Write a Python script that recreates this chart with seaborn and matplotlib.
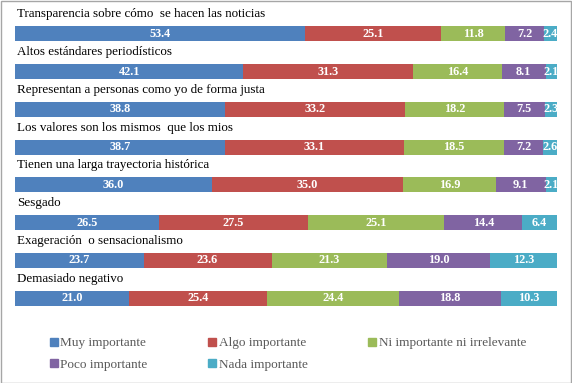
import numpy as np
import pandas as pd
import matplotlib.pyplot as plt
import seaborn as sns
from matplotlib.lines import Line2D
from matplotlib.patches import Rectangle

# Datos (porcentajes por categoria)
categorias = [
    "Transparencia sobre cómo  se hacen las noticias",
    "Altos estándares periodísticos",
    "Representan a personas como yo de forma justa",
    "Los valores son los mismos  que los mios",
    "Tienen una larga trayectoria histórica",
    "Sesgado",
    "Exageración  o sensacionalismo",
    "Demasiado negativo",
]
muy_importante = [53.4, 42.1, 38.8, 38.7, 36.0, 26.5, 23.7, 21.0]
algo_importante = [25.1, 31.3, 33.2, 33.1, 35.0, 27.5, 23.6, 25.4]
ni_importante = [11.8, 16.4, 18.2, 18.5, 16.9, 25.1, 21.3, 24.4]
poco_importante = [7.2, 8.1, 7.5, 7.2, 9.1, 14.4, 19.0, 18.8]
nada_importante = [2.4, 2.1, 2.3, 2.6, 2.1, 6.4, 12.3, 10.3]

series = ["Muy importante", "Algo importante", "Ni importante ni irrelevante",
          "Poco importante", "Nada importante"]
colores = ["#4F81BD", "#C0504D", "#9BBB59", "#8064A2", "#4BACC6"]

df = pd.DataFrame({
    "Muy importante": muy_importante,
    "Algo importante": algo_importante,
    "Ni importante ni irrelevante": ni_importante,
    "Poco importante": poco_importante,
    "Nada importante": nada_importante,
}, index=categorias)

# 100% apilado (como Excel)
pct = df.div(df.sum(axis=1), axis=0) * 100
acum = pct.cumsum(axis=1)

sns.set_style("white")
plt.rcParams["font.family"] = ["Liberation Serif", "DejaVu Serif"]

fig = plt.figure(figsize=(5.72, 3.83), dpi=100)
ax = fig.add_axes([15 / 572, 1 - 317 / 383, 542 / 572, 302 / 383])

# barras superpuestas de mayor a menor acumulado
for serie, color in reversed(list(zip(series, colores))):
    sns.barplot(x=acum[serie].values, y=categorias, color=color, orient="h",
                width=0.4, ax=ax, saturation=1, linewidth=0)

# etiquetas de valores
for i, cat in enumerate(categorias):
    for serie in series:
        centro = acum.loc[cat, serie] - pct.loc[cat, serie] / 2
        ax.text(centro, i, f"{df.loc[cat, serie]:.1f}", ha="center", va="center",
                color="white", fontsize=8.8, fontweight="bold")
    ax.text(0.3, i - 0.36, cat, ha="left", va="bottom", fontsize=9.4, color="black")

ax.set_xlim(0, 100)
ax.set_ylim(7.5, -0.5)
ax.set_xticks([])
ax.set_yticks([])
ax.set_xlabel("")
ax.set_ylabel("")
sns.despine(ax=ax, left=True, bottom=True)

# leyenda (orden por filas)
handles = [Line2D([], [], marker="s", linestyle="", color=c, markersize=6) for c in colores]
orden = [0, 3, 1, 4, 2]
fig.legend([handles[k] for k in orden], [series[k] for k in orden],
           ncol=3, loc="center left", bbox_to_anchor=(38 / 572, 1 - 354 / 383),
           frameon=False, fontsize=9.5, labelcolor="#595959",
           handlelength=0.6, handletextpad=0.2, columnspacing=4.6, labelspacing=0.7)

# borde del grafico
fig.patches.append(Rectangle((0.001, 0.001), 0.997, 0.996, transform=fig.transFigure,
                             fill=False, edgecolor="#A6A6A6", linewidth=1))

fig.savefig("out.png", dpi=100)
